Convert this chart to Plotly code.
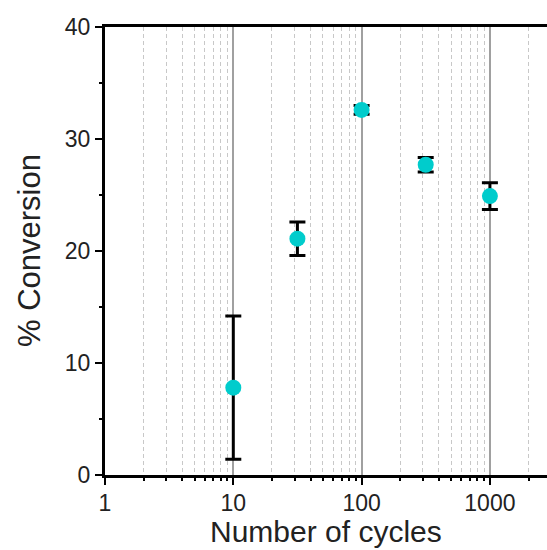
import plotly.graph_objects as go

# Conversion measured after a given number of cycles
cycles = [10, 31.6, 100, 316, 1000]
conversion = [7.8, 21.1, 32.6, 27.7, 24.9]
conversion_err = [6.4, 1.5, 0.4, 0.65, 1.2]

x_major = [1, 10, 100, 1000]
x_major_text = ["1", "10", "100", "1000"]
x_minor = [m * d for d in (1, 10, 100, 1000) for m in range(2, 10)]
y_major = [0, 10, 20, 30, 40]
y_minor = [5, 15, 25, 35]

fig = go.Figure()
fig.add_trace(go.Scatter(
    x=cycles, y=conversion, mode="markers",
    marker=dict(color="rgb(0,204,204)", size=16, line=dict(width=0)),
    error_y=dict(type="data", array=conversion_err, visible=True,
                 color="black", thickness=3, width=8),
    showlegend=False,
))

font_family = "Liberation Sans, Arial, sans-serif"
fig.update_layout(
    width=547, height=550,
    margin=dict(l=105, r=0, t=27, b=75),
    paper_bgcolor="white", plot_bgcolor="white",
    font=dict(family=font_family, color="#222"),
)
fig.update_xaxes(
    type="log", range=[0, 3.445],
    tickmode="array", tickvals=x_major, ticktext=x_major_text,
    ticks="outside", ticklen=7, tickwidth=2, tickcolor="black",
    tickfont=dict(size=23, color="#222"), ticklabelstandoff=-2,
    showline=True, linecolor="black", linewidth=3, mirror=True,
    showgrid=True, gridcolor="#a0a0a0", gridwidth=1.5,
    minor=dict(tickmode="array", tickvals=x_minor, ticks="outside",
               ticklen=3, tickwidth=2, tickcolor="black",
               showgrid=True, gridcolor="#c8c8c8", gridwidth=1,
               griddash="4px,3px"),
    zeroline=False,
)
fig.update_yaxes(
    range=[0, 40], tickmode="array", tickvals=y_major,
    ticks="outside", ticklen=7, tickwidth=2, tickcolor="black",
    tickfont=dict(size=23, color="#222"),
    showline=True, linecolor="black", linewidth=3, mirror=False,
    showgrid=False, zeroline=False,
    minor=dict(tickmode="array", tickvals=y_minor, ticks="outside",
               ticklen=3, tickwidth=2, tickcolor="black", showgrid=False),
)

# Axis titles placed as annotations for exact positioning
fig.add_annotation(
    text="Number of cycles", xref="paper", yref="paper", x=0.5, y=0,
    xanchor="center", yanchor="middle", yshift=-56, showarrow=False,
    borderpad=0, font=dict(size=30, color="#222"),
)
fig.add_annotation(
    text="% Conversion", xref="paper", yref="paper", x=0, y=0.5,
    xanchor="center", yanchor="middle", xshift=-76, textangle=-90,
    showarrow=False, borderpad=0, font=dict(size=31, color="#222"),
)

fig.write_html("out.html")
